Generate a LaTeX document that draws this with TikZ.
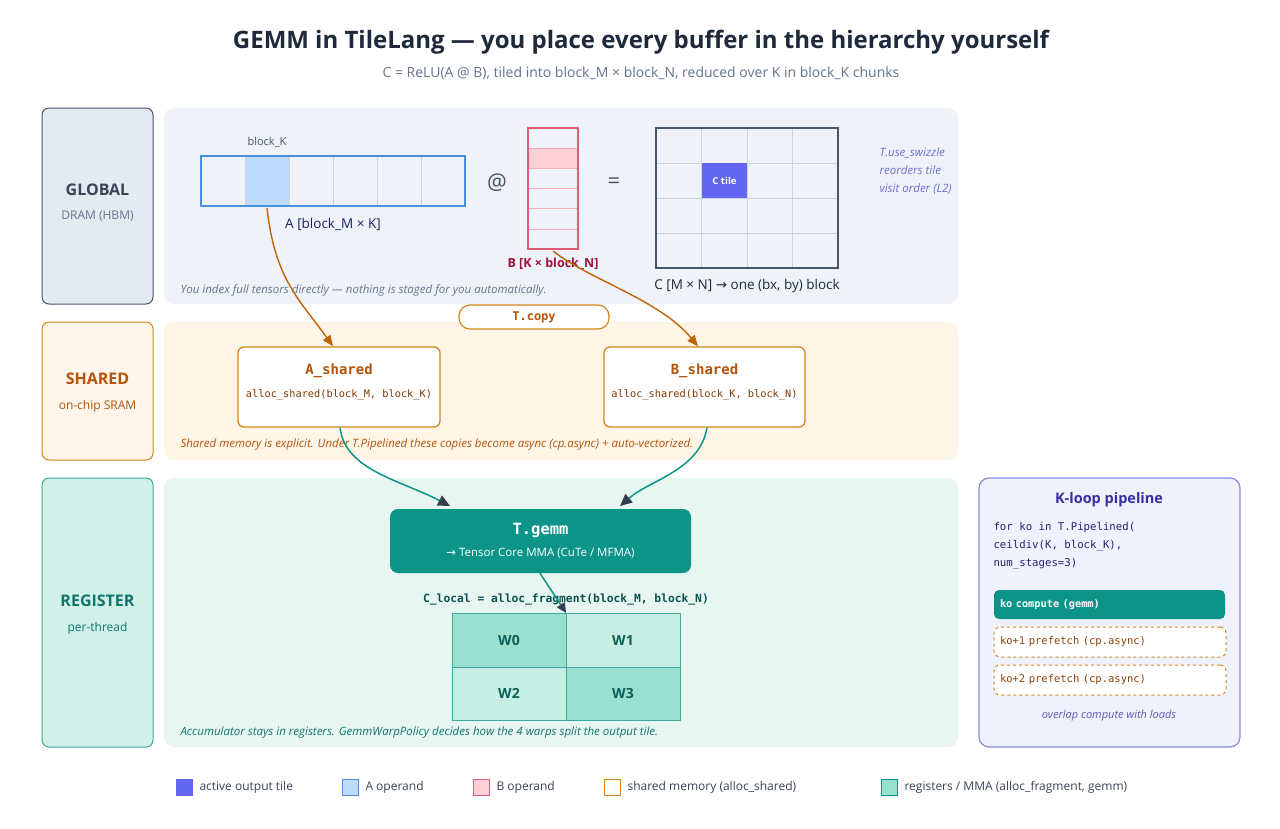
\documentclass[tikz,border=0pt]{standalone}
\usepackage{fontspec}
\setmainfont{Open Sans}
\setmonofont{DejaVu Sans Mono}
\newfontfamily\djv{DejaVu Sans}
\newcommand\myarr{{\djv →}}
\usetikzlibrary{arrows.meta}
\definecolor{ink}{HTML}{1E293B}
\definecolor{slate}{HTML}{475569}
\definecolor{gray1}{HTML}{64748B}
\definecolor{cellline}{HTML}{CBD5E1}
\definecolor{indig}{HTML}{6366F1}
\definecolor{ablue}{HTML}{4A90D9}
\definecolor{alight}{HTML}{BFDBFE}
\definecolor{bpink}{HTML}{E05A75}
\definecolor{blight}{HTML}{FBCFD8}
\definecolor{bdark}{HTML}{9F1239}
\definecolor{orng}{HTML}{D4861A}
\definecolor{orngdk}{HTML}{B45309}
\definecolor{teal}{HTML}{0D9488}
\definecolor{tealdk}{HTML}{0F766E}
\definecolor{wdark}{HTML}{99E0CF}
\definecolor{wlight}{HTML}{C6EEE2}
\definecolor{purp}{HTML}{3730A3}
\definecolor{purpl}{HTML}{6A6FD0}
\definecolor{gbg}{HTML}{EFF3F9}
\definecolor{sbg}{HTML}{FEF5E6}
\definecolor{rbg}{HTML}{E7F6F0}
\definecolor{kbg}{HTML}{EFF1FD}
\tikzset{
 lbox/.style={rounded corners=7pt, line width=1pt},
 ttl/.style={font=\bfseries\fontsize{16}{18}\selectfont},
 sub/.style={font=\fontsize{12}{14}\selectfont},
 captxt/.style={font=\itshape\fontsize{11.5}{13}\selectfont, anchor=west},
 cell/.style={draw=cellline, line width=0.8pt},
 oarr/.style={line width=1.4pt, draw=orngdk!90!yellow, -{Triangle[length=11pt,width=9pt]}},
 tarr/.style={line width=1.5pt, draw=teal, -{Triangle[length=12pt,width=11pt, fill=ink!90, color=ink!90]}},
 wcell/.style={draw=teal!80, minimum width=114pt, minimum height=53.5pt, font=\bfseries\fontsize{14}{16}\selectfont, text=tealdk!80!black},
 lg/.style={font=\fontsize{12}{14}\selectfont, text=slate!80!black, anchor=west},
 pref/.style={draw=orng, dashed, line width=1pt, fill=white, rounded corners=6pt, minimum width=232pt, minimum height=30pt, font=\ttfamily\fontsize{10.5}{12}\selectfont, text=orngdk!80!black, text width=220pt},
}
\begin{document}
\begin{tikzpicture}[x=1pt,y=-1pt]
\useasboundingbox[fill=white] (0,0) rectangle (1280,828);
\node[font=\bfseries\fontsize{24}{28}\selectfont, text=ink] (title) at (641,42) {GEMM in TileLang — you place every buffer in the hierarchy yourself};
\node[font=\fontsize{14}{16}\selectfont, text=gray1] (subt) at (641,73) {C = ReLU(A @ B), tiled into block\_M × block\_N, reduced over K in block\_K chunks};
% panels
\fill[gbg, rounded corners=10pt] (164,108) rectangle (958,304);
\fill[sbg, rounded corners=10pt] (164,322) rectangle (958,460);
\fill[rbg, rounded corners=10pt] (164,478) rectangle (958,747);
% left labels
\draw[lbox, draw=slate, fill=gbg!70!cellline] (42,108) rectangle (153,304);
\node[ttl, text=slate!80!black] (lg) at (97.5,190) {GLOBAL};
\node[sub, text=gray1] (lgs) at (97.5,216) {DRAM (HBM)};
\draw[lbox, draw=orng, fill=sbg!80!orange!30] (42,322) rectangle (153,460);
\node[ttl, text=orngdk] (ls) at (97.5,379) {SHARED};
\node[sub, text=orngdk] (lss) at (97.5,406) {on-chip SRAM};
\draw[lbox, draw=teal!80, fill=wlight!80] (42,478) rectangle (153,747);
\node[ttl, text=tealdk] (lr) at (97.5,601) {REGISTER};
\node[sub, text=tealdk] (lrs) at (97.5,628) {per-thread};
% A matrix
\fill[alight] (245,156) rectangle (289,206);
\foreach \i in {1,...,5} \draw[cell] (201+44*\i,156) -- (201+44*\i,206);
\draw[ablue, line width=1.5pt] (201,156) rectangle (465,206);
\node[font=\fontsize{11}{13}\selectfont, text=slate] (bk) at (267,142) {block\_K};
\node[font=\fontsize{13.5}{15}\selectfont, text=ink!80!blue] (al) at (333,224) {A [block\_M × K]};
\coordinate (aout) at (267,208);
\node[font=\fontsize{22}{24}\selectfont, text=slate] (at) at (497,183) {@};
% B matrix
\fill[blight] (528,148) rectangle (578,168);
\foreach \j in {1,...,5} \draw[draw=blight!70!bpink, line width=0.8pt] (528,128+20.2*\j) -- (578,128+20.2*\j);
\draw[bpink, line width=1.5pt] (528,128) rectangle (578,249);
\node[font=\bfseries\fontsize{12.5}{15}\selectfont, text=bdark] (bl) at (553,264) {B [K × block\_N]};
\coordinate (bout) at (553,251);
\node[font=\fontsize{22}{24}\selectfont, text=slate] (eq) at (614,183) {=};
% C matrix
\foreach \i in {1,2,3} {\draw[cell] (656+45.5*\i,128) -- (656+45.5*\i,268);
 \draw[cell] (656,128+35*\i) -- (838,128+35*\i);}
\fill[indig] (702,163) rectangle (747,198);
\node[font=\bfseries\fontsize{9.5}{11}\selectfont, text=white] (ct) at (724.5,181) {C tile};
\draw[slate, line width=1.5pt] (656,128) rectangle (838,268);
\node[font=\fontsize{13.5}{15}\selectfont, text=ink] (cl) at (747,286) {C [M × N] \myarr{} one (bx, by) block};
\node[font=\itshape\fontsize{11.5}{18}\selectfont, text=purpl, align=left, anchor=north west] (sw) at (876,144) {T.use\_swizzle\\reorders tile\\visit order (L2)};
\node[captxt, text=gray1] (gc) at (177,290) {You index full tensors directly — nothing is staged for you automatically.};
% shared
\node[captxt, text=orngdk] (sc) at (177,445) {Shared memory is explicit. Under T.Pipelined these copies become async (cp.async) + auto-vectorized.};
\node[draw=orng, line width=1.3pt, fill=white, rounded corners=6pt, minimum width=202pt, minimum height=80pt] (ash) at (339,387) {};
\node[font=\ttfamily\bfseries\fontsize{14}{15}\selectfont, text=orngdk] at (339,371) {A\_shared};
\node[font=\ttfamily\fontsize{10.3}{11}\selectfont, text=orngdk!70!black] at (339,395) {alloc\_shared(block\_M, block\_K)};
\node[draw=orng, line width=1.3pt, fill=white, rounded corners=6pt, minimum width=201pt, minimum height=80pt] (bsh) at (704.5,387) {};
\node[font=\ttfamily\bfseries\fontsize{14}{15}\selectfont, text=orngdk] at (704.5,371) {B\_shared};
\node[font=\ttfamily\fontsize{10.3}{11}\selectfont, text=orngdk!70!black] at (704.5,395) {alloc\_shared(block\_K, block\_N)};
\draw[oarr] (aout) .. controls (275,280) and (300,300) .. (ash.north -| 333,0);
\draw[oarr] (bout) .. controls (590,280) and (660,300) .. (bsh.north -| 698,0);
\node[draw=orng, line width=1.2pt, fill=white, rounded corners=11pt, minimum width=150pt, minimum height=24pt, font=\ttfamily\bfseries\fontsize{12}{13}\selectfont, text=orngdk] (tc) at (534,317) {T.copy};
% register
\node[fill=teal, rounded corners=8pt, minimum width=301pt, minimum height=64pt] (gemm) at (540.5,541) {};
\node[font=\ttfamily\bfseries\fontsize{15.5}{17}\selectfont, text=white] at (540.5,530) {T.gemm};
\node[font=\fontsize{11.5}{13}\selectfont, text=white] at (540.5,553) {\myarr{} Tensor Core MMA (CuTe / MFMA)};
\draw[tarr] (ash.south -| 340,0) .. controls (345,470) and (400,480) .. (450,506);
\draw[tarr] (bsh.south -| 707,0) .. controls (700,470) and (650,480) .. (620,506);
\node[font=\ttfamily\bfseries\fontsize{11.3}{12}\selectfont, text=tealdk!70!black] (clo) at (566,600) {C\_local = alloc\_fragment(block\_M, block\_N)};
\node[wcell, fill=wdark] (w0) at (509,640) {W0};
\node[wcell, fill=wlight] (w1) at (623,640) {W1};
\node[wcell, fill=wlight] (w2) at (509,693.5) {W2};
\node[wcell, fill=wdark] (w3) at (623,693.5) {W3};
\draw[line width=1.5pt, draw=teal, -{Triangle[length=10pt,width=9pt, fill=ink!90, color=ink!90]}] (gemm.south -| 540,0) -- (w0.north east);
\node[captxt, text=tealdk] (rc) at (177,733) {Accumulator stays in registers. GemmWarpPolicy decides how the 4 warps split the output tile.};
% K-loop
\draw[rounded corners=10pt, draw=purpl!80, line width=1.2pt, fill=kbg] (979,478) rectangle (1240,747);
\node[font=\bfseries\fontsize{14.5}{17}\selectfont, text=purp] (kt) at (1109,500) {K-loop pipeline};
\node[font=\ttfamily\fontsize{10.7}{18}\selectfont, text=purp!70!black, align=left, anchor=north west] (kc) at (990,519) {for ko in T.Pipelined(\\ceildiv(K, block\_K),\\num\_stages=3)};
\node[fill=teal, rounded corners=5pt, minimum width=231pt, minimum height=29pt, font=\ttfamily\bfseries\fontsize{10.3}{12}\selectfont, text=white, text width=219pt] (k0) at (1109.5,604.5) {ko compute (gemm)};
\node[pref] (k1) at (1110,642) {ko+1 prefetch (cp.async)};
\node[pref] (k2) at (1110,680) {ko+2 prefetch (cp.async)};
\node[font=\itshape\fontsize{11}{12}\selectfont, text=purp!80] (ko) at (1109,716) {overlap compute with loads};
% legend
\draw[fill=indig, draw=indig] (176,779) rectangle (192,795); \node[lg] (l1) at (196,787) {active output tile};
\draw[fill=alight, draw=ablue] (342,779) rectangle (358,795); \node[lg] (l2) at (362,787) {A operand};
\draw[fill=blight, draw=bpink] (473,779) rectangle (489,795); \node[lg] (l3) at (493,787) {B operand};
\draw[fill=white, draw=orng] (604,779) rectangle (620,795); \node[lg] (l4) at (624,787) {shared memory (alloc\_shared)};
\draw[fill=wdark, draw=teal] (881,779) rectangle (897,795); \node[lg] (l5) at (901,787) {registers / MMA (alloc\_fragment, gemm)};
\end{tikzpicture}
\end{document}
